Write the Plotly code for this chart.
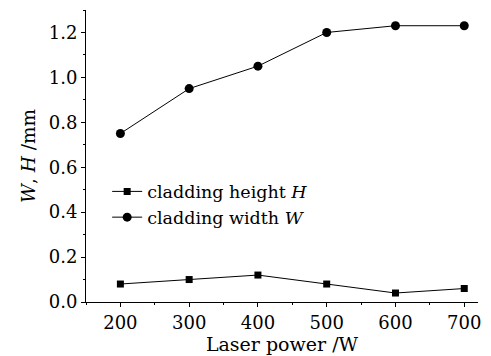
import plotly.graph_objects as go

power = [200, 300, 400, 500, 600, 700]
height_H = [0.08, 0.10, 0.12, 0.08, 0.04, 0.06]
width_W = [0.75, 0.95, 1.05, 1.20, 1.23, 1.23]

font_family = "DejaVu Serif, Liberation Serif, serif"

fig = go.Figure()
fig.add_trace(go.Scatter(
    x=power, y=height_H, mode="lines+markers",
    name="cladding height <i>H</i>",
    line=dict(color="black", width=1),
    marker=dict(symbol="square", size=7, color="black"),
))
fig.add_trace(go.Scatter(
    x=power, y=width_W, mode="lines+markers",
    name="cladding width <i>W</i>",
    line=dict(color="black", width=1),
    marker=dict(symbol="circle", size=9, color="black"),
))

fig.update_layout(
    width=491, height=356,
    margin=dict(l=86, r=11, t=10, b=53),
    paper_bgcolor="white", plot_bgcolor="white",
    font=dict(family=font_family, size=18, color="black"),
    showlegend=True,
    legend=dict(x=0.054, y=0.44, xanchor="left", yanchor="top",
                bgcolor="rgba(0,0,0,0)", font=dict(size=17.5),
                itemwidth=30, tracegroupgap=0),
    xaxis=dict(
        range=[150, 720], tickvals=[200, 300, 400, 500, 600, 700],
        showline=True, linecolor="black", linewidth=1,
        ticks="outside", ticklen=4, tickcolor="black",
        tickfont=dict(size=18),
        minor=dict(tickvals=[150, 250, 350, 450, 550, 650], ticks="outside", ticklen=2, tickcolor="black"),
        showgrid=False, zeroline=False,
        title=dict(text="Laser power /W", standoff=0, font=dict(size=19)),
    ),
    yaxis=dict(
        range=[0, 1.3], tickvals=[0, 0.2, 0.4, 0.6, 0.8, 1.0, 1.2],
        tickformat=".1f",
        showline=True, linecolor="black", linewidth=1,
        ticks="outside", ticklen=4, tickcolor="black",
        tickfont=dict(size=18),
        minor=dict(dtick=0.1, ticks="outside", ticklen=2, tickcolor="black"),
        showgrid=False, zeroline=False,
        title=dict(text="<i>W</i>, <i>H</i> /mm", standoff=8, font=dict(size=18.5)),
    ),
)

fig.write_html("out.html", config={"displayModeBar": False},
               post_script="document.body.style.margin='0';")
